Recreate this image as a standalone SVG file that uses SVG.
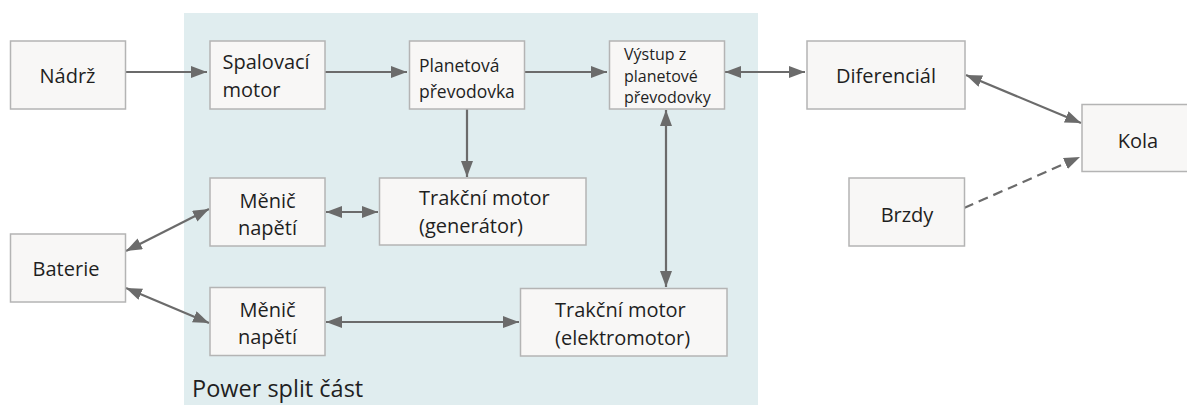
<svg xmlns="http://www.w3.org/2000/svg" width="1187" height="405" viewBox="0 0 1187 405">
<style>
.box{fill:#f8f7f6;stroke:#b4b4b4;stroke-width:1.5}
.t{font-family:"Open Sans","Noto Sans",sans-serif;font-size:20px;fill:#1f1f1f}
.c{text-anchor:middle}
.ln{fill:none;stroke:#6b6b6b;stroke-width:2.2}
</style>
<defs>
<marker id="ah" markerUnits="userSpaceOnUse" markerWidth="17" markerHeight="13" refX="16" refY="6" orient="auto-start-reverse" viewBox="0 0 17 13">
<path d="M0,0 L16,6 L0,12 z" fill="#6b6b6b"/>
</marker>
</defs>
<rect width="1187" height="405" fill="#ffffff"/>
<g id="panel">
<rect x="184" y="13" width="574" height="392" fill="#e0edef"/>
<text class="t" x="192" y="397" style="font-size:23.5px">Power split část</text>
</g>
<g id="connectors">
<line class="ln" x1="125" y1="72" x2="207" y2="72" marker-end="url(#ah)"/>
<line class="ln" x1="325" y1="72" x2="407" y2="72" marker-end="url(#ah)"/>
<line class="ln" x1="524" y1="72" x2="607" y2="72" marker-end="url(#ah)"/>
<line class="ln" x1="725" y1="72" x2="805" y2="72" marker-start="url(#ah)" marker-end="url(#ah)"/>
<line class="ln" x1="467" y1="109" x2="467" y2="177" marker-end="url(#ah)"/>
<line class="ln" x1="666" y1="110" x2="666" y2="287" marker-start="url(#ah)" marker-end="url(#ah)"/>
<line class="ln" x1="326" y1="212" x2="378" y2="212" marker-start="url(#ah)" marker-end="url(#ah)"/>
<line class="ln" x1="126" y1="251" x2="209" y2="209" marker-start="url(#ah)" marker-end="url(#ah)"/>
<line class="ln" x1="126" y1="288" x2="209" y2="323" marker-start="url(#ah)" marker-end="url(#ah)"/>
<line class="ln" x1="326" y1="322" x2="519" y2="322" marker-start="url(#ah)" marker-end="url(#ah)"/>
<line class="ln" x1="966" y1="75" x2="1081" y2="123" marker-start="url(#ah)" marker-end="url(#ah)"/>
<line class="ln" x1="964" y1="208" x2="1080" y2="157" stroke-dasharray="10 6" marker-end="url(#ah)"/>
</g>
<g id="nadrz">
<rect class="box" x="10.5" y="41" width="115" height="68"/>
<text class="t c" x="67.5" y="83">Nádrž</text>
</g>
<g id="spalovaci">
<rect class="box" x="210" y="41" width="115" height="68"/>
<text class="t" x="222.5" y="69">Spalovací</text>
<text class="t" x="222.5" y="97">motor</text>
</g>
<g id="planetova">
<rect class="box" x="409.5" y="41" width="115" height="68"/>
<text class="t" x="419" y="72" style="font-size:17.5px">Planetová</text>
<text class="t" x="419" y="98" style="font-size:17.5px">převodovka</text>
</g>
<g id="vystup">
<rect class="box" x="609.5" y="41" width="115" height="68"/>
<text class="t" x="624" y="60" style="font-size:16px">Výstup z</text>
<text class="t" x="624" y="81.5" style="font-size:16px">planetové</text>
<text class="t" x="624" y="103" style="font-size:16px">převodovky</text>
</g>
<g id="diferencial">
<rect class="box" x="807" y="41" width="158" height="68"/>
<text class="t c" x="886" y="83">Diferenciál</text>
</g>
<g id="kola">
<rect class="box" x="1082" y="104.5" width="112" height="67"/>
<text class="t c" x="1138" y="148">Kola</text>
</g>
<g id="brzdy">
<rect class="box" x="849" y="178" width="115.5" height="68"/>
<text class="t c" x="907" y="222">Brzdy</text>
</g>
<g id="menic1">
<rect class="box" x="210" y="178" width="115" height="68"/>
<text class="t c" x="267.5" y="208">Měnič</text>
<text class="t c" x="267.5" y="235">napětí</text>
</g>
<g id="trakcni-gen">
<rect class="box" x="379.5" y="178" width="206.5" height="67"/>
<text class="t" x="419" y="205">Trakční motor</text>
<text class="t" x="419" y="233">(generátor)</text>
</g>
<g id="baterie">
<rect class="box" x="10.5" y="234" width="115" height="68"/>
<text class="t c" x="66" y="276">Baterie</text>
</g>
<g id="menic2">
<rect class="box" x="210" y="287.5" width="115" height="68"/>
<text class="t c" x="267.5" y="317">Měnič</text>
<text class="t c" x="267.5" y="344">napětí</text>
</g>
<g id="trakcni-el">
<rect class="box" x="520.5" y="288.5" width="206.5" height="67.5"/>
<text class="t" x="555" y="317">Trakční motor</text>
<text class="t" x="555" y="345">(elektromotor)</text>
</g>
</svg>
